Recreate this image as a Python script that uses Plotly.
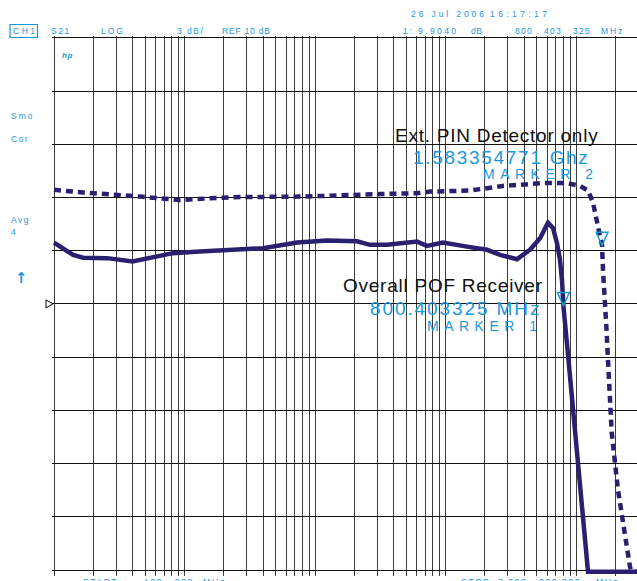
import math
import plotly.graph_objects as go

# ---------------- data ----------------
start_mhz = 0.1
stop_mhz = 3000.0
ref_level_db = 10.0
scale_db_per_div = 3.0

# Overall POF Receiver (solid)
pof_freq_mhz = [0.1, 0.117, 0.14, 0.167, 0.255, 0.40, 0.615, 0.816, 1.31, 2.66, 4.0, 7.3,
                12.4, 21, 26.4, 35.6, 53.5, 60.5, 72, 95.7, 154, 208, 262, 353, 444, 530,
                610, 667, 715, 754, 781, 800.403325, 876, 991, 1236, 1500, 2000, 2500, 3000]
pof_db = [13.46, 13.14, 12.76, 12.60, 12.58, 12.39, 12.67, 12.86, 12.96, 13.05, 13.14, 13.46,
          13.57, 13.53, 13.33, 13.33, 13.51, 13.51, 13.27, 13.46, 13.20, 13.05, 12.76, 12.52, 13.05, 13.70,
          14.58, 14.27, 13.42, 12.48, 11.35, 9.904, 6.84, 2.52, -5.1, -5.1, -5.1, -5.1, -5.1]

# Ext. PIN Detector only (dashed)
pin_freq_mhz = [0.1, 0.167, 0.456, 0.92, 1.87, 2.66, 8.1, 17.6, 31.5, 60.5, 76, 154, 276, 372,
                558, 853, 1074, 1237, 1350, 1475, 1583.354771, 1610, 1700, 1719, 1790, 1878,
                2098, 2460, 2593, 2680, 3000]
pin_db = [16.43, 16.28, 16.05, 15.86, 15.98, 16.02, 16.05, 16.15, 16.19, 16.24, 16.33, 16.39, 16.65, 16.71,
          16.81, 16.81, 16.65, 16.39, 15.70, 14.36, 13.30, 11.92, 9.28, 8.36, 5.71, 2.73,
          -0.49, -4.04, -4.83, -5.1, -5.1]

marker_freq_mhz = [800.403325, 1583.354771]
marker_db = [9.904, 13.30]

header_items = [("CH1", 12, 31, 2.5), ("S21", 50, 31, 1.5), ("LOG", 100, 31, 2.0),
                ("3 dB/", 176, 31, 1.5), ("REF 10 dB", 221, 31, 0.8),
                ("1:", 402, 31, 2.0), ("9.9040", 417, 31, 2.4), ("dB", 470, 31, 0.5),
                ("800 . 403", 514, 31, 1.3), ("325", 572, 31, 1.3), ("MHz", 600, 31, 2.0),
                ("26 Jul 2006", 410, 14, 2.9), ("16:17:17", 489, 14, 3.4)]
side_items = [("Smo", 10, 116, 2.0), ("Cor", 10, 139, 1.5), ("Avg", 10, 220, 1.5), ("4", 10, 232, 1.0)]
footer_items = [("START", 82, 582, 1.6), ("100 . 000", 143, 582, 1.6), ("MHz", 202, 582, 2.0),
                ("STOP", 460, 582, 1.6), ("3 000 . 000 000", 497, 582, 1.6), ("MHz", 595, 582, 2.0)]

# ---------------- style / geometry ----------------
FIG_W, FIG_H = 637, 581
PX_PER_DECADE = 130.5
PX_PER_DB = 53.2 / 3.0
L, T = 52, 36
B_PX = 576
PLOT_W = FIG_W - L
PLOT_H = B_PX - T
NAVY = "#2a2070"
BLUE = "#1b98dc"
FONT = "Liberation Sans, Arial, sans-serif"

x0 = math.log10(start_mhz) - 2 / PX_PER_DECADE
x_range = [x0, x0 + PLOT_W / PX_PER_DECADE]
bottom_db = ref_level_db - 5 * scale_db_per_div
top_db = ref_level_db + 5 * scale_db_per_div
y_range = [bottom_db - 6 / PX_PER_DB, top_db + 1.8 / PX_PER_DB]

grid_x = [k * 10 ** d for d in range(-1, 4) for k in range(1, 10) if k * 10 ** d <= stop_mhz]
grid_y = [ref_level_db + scale_db_per_div * i for i in range(-5, 6)]


def paper_x(px):
    return (px - L) / PLOT_W


def paper_y(py):
    return (B_PX - py) / PLOT_H


def spaced(text, ls):
    return f'<span style="letter-spacing:{ls}px">{text}</span>'


fig = go.Figure()
fig.add_trace(go.Scatter(x=pin_freq_mhz, y=pin_db, mode="lines",
                         line=dict(color=NAVY, width=4.5, dash="7px,5px"),
                         hoverinfo="skip", name="Ext. PIN Detector only"))
fig.add_trace(go.Scatter(x=pof_freq_mhz, y=pof_db, mode="lines",
                         line=dict(color=NAVY, width=4.5),
                         hoverinfo="skip", name="Overall POF Receiver"))

shapes = []
for f, v in zip(marker_freq_mhz, marker_db):
    shapes.append(dict(type="path", xref="x", yref="y", xsizemode="pixel", ysizemode="pixel",
                       xanchor=f, yanchor=v, path="M -6,13 L 6,13 L 0,0 Z",
                       line=dict(color=BLUE, width=1.5), fillcolor="rgba(0,0,0,0)"))
# reference level marker
shapes.append(dict(type="path", xref="paper", yref="y", xsizemode="pixel", ysizemode="pixel",
                   xanchor=0, yanchor=ref_level_db, path="M -6,4 L -6,-4 L 1,0 Z",
                   line=dict(color="black", width=1), fillcolor="white"))
# CH1 box
shapes.append(dict(type="rect", xref="paper", yref="paper",
                   x0=paper_x(10), x1=paper_x(37.5), y0=paper_y(37.5), y1=paper_y(24.5),
                   line=dict(color=BLUE, width=1.2)))

ann = []


def add_text(text, px, py, size, color, ls, family=FONT):
    ann.append(dict(text=spaced(text, ls), x=paper_x(px), y=paper_y(py), xref="paper", yref="paper",
                    xanchor="left", yanchor="middle", showarrow=False,
                    font=dict(family=family, size=size, color=color)))


# main labels
add_text("Ext. PIN Detector only", 393, 135, 19, "#111111", 0.75)
add_text("1.583354771 Ghz", 411, 157, 19, BLUE, 1.7)
add_text("MARKER 2", 481, 174, 14, BLUE, 5.5)
add_text("Overall POF Receiver", 341, 285, 19, "#111111", 0.75)
add_text("800.403325 MHz", 368, 308, 19, BLUE, 1.9)
add_text("MARKER 1", 425, 326, 14, BLUE, 5.5)

for t, px, py, ls in header_items + side_items + footer_items:
    add_text(t, px - 1, py, 8.5, BLUE, ls)

add_text("<b><i>hp</i></b>", 60, 55, 8, BLUE, 0.5)
add_text("<b>↑</b>", 13, 278, 15, BLUE, 0, family="DejaVu Sans, sans-serif")

fig.update_layout(
    width=FIG_W, height=FIG_H,
    margin=dict(l=L, r=0, t=T, b=FIG_H - B_PX, pad=0),
    paper_bgcolor="white", plot_bgcolor="white",
    showlegend=False,
    shapes=shapes, annotations=ann,
    xaxis=dict(type="log", range=x_range, tickvals=grid_x, showticklabels=False, ticks="",
               showgrid=True, gridcolor="#3c3c3c", gridwidth=1.2, zeroline=False, showline=False),
    yaxis=dict(range=y_range, tickvals=grid_y, showticklabels=False, ticks="",
               showgrid=True, gridcolor="#111111", gridwidth=1, zeroline=False, showline=False),
)

fig.write_html("out.html", config={"displayModeBar": False},
               post_script="document.body.style.margin='0';document.body.style.padding='0';")
